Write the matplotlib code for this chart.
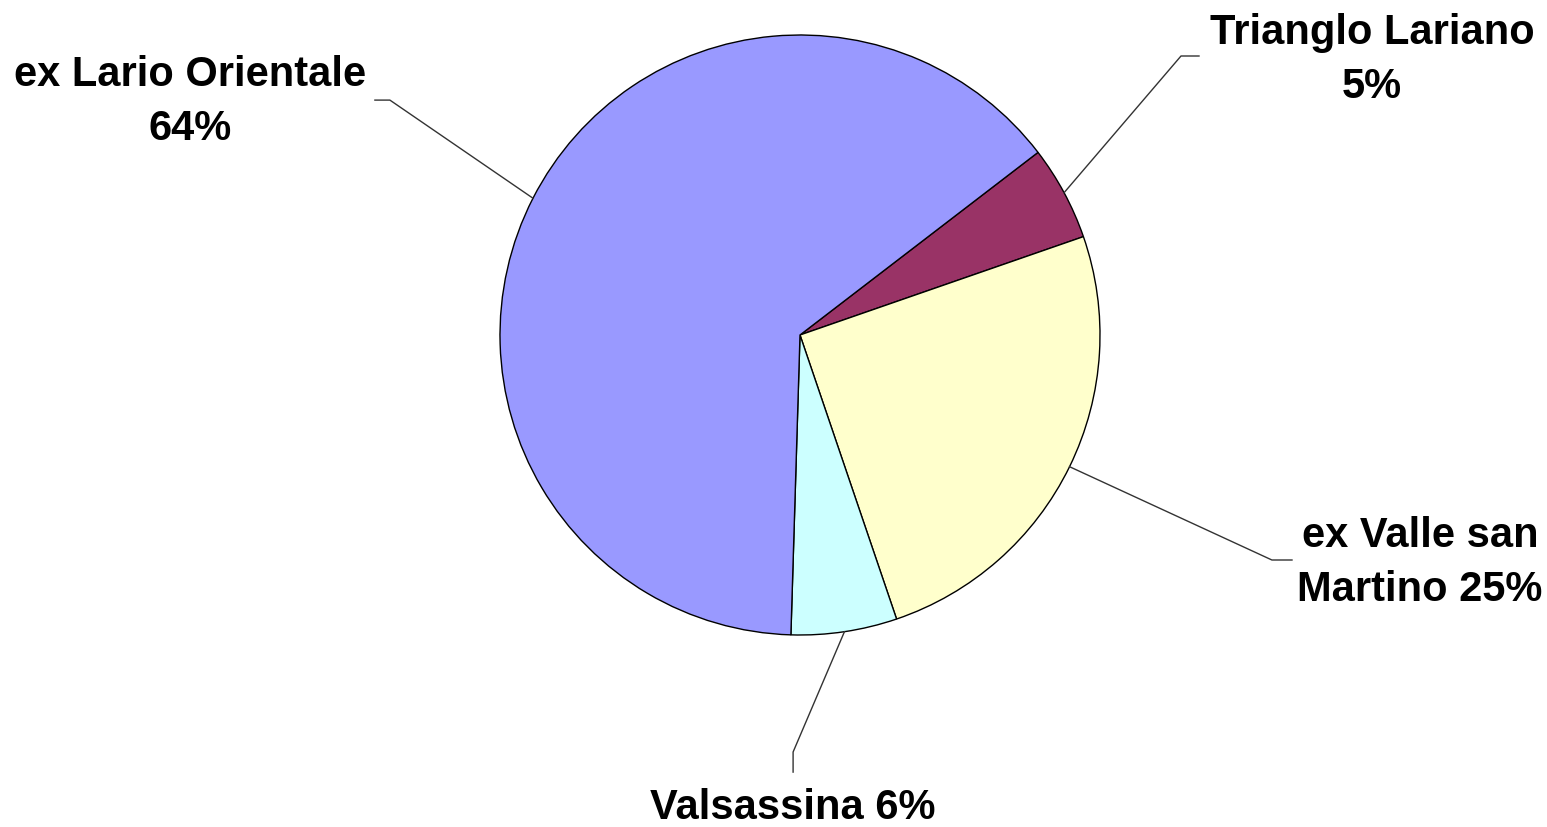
import numpy as np
import matplotlib
matplotlib.use("Agg")
import matplotlib.pyplot as plt

# data
areas = ["Trianglo Lariano", "ex Valle san\nMartino", "Valsassina", "ex Lario Orientale"]
shares = [5.1, 25.1, 5.7, 64.1]
colors = ["#993366", "#FFFFCC", "#CCFFFF", "#9999FF"]

# label layout: (elbow point, text anchor) in pie-radius units
label_sep = ["\n", " ", " ", "\n"]
elbows = [(1.27, 0.93), (1.573, -0.75), (-0.023, -1.39), (-1.367, 0.783)]
line_ends = [(1.33, 0.93), (1.64, -0.75), (-0.023, -1.457), (-1.417, 0.783)]
text_pos = [(1.907, 0.917), (2.067, -0.76), (-0.023, -1.577), (-2.033, 0.777)]

plt.rcParams["font.family"] = ["Liberation Sans", "DejaVu Sans"]

fig = plt.figure(figsize=(15.47, 8.27), dpi=100)
ax = fig.add_axes([0, 0, 1, 1])

wedges, _ = ax.pie(shares, colors=colors, startangle=37.5, counterclock=False,
                   radius=1.0, center=(0, 0),
                   wedgeprops=dict(edgecolor="black", linewidth=1.0))

for i, w in enumerate(wedges):
    mid = np.deg2rad((w.theta1 + w.theta2) / 2)
    x0, y0 = np.cos(mid), np.sin(mid)
    ex, ey = elbows[i]
    lx, ly = line_ends[i]
    ax.plot([x0, ex, lx], [y0, ey, ly], color="#333333", lw=1.0)
    pct = f"{round(shares[i]):d}%"
    txt = areas[i] + label_sep[i] + pct
    ax.text(text_pos[i][0], text_pos[i][1], txt, ha="center", va="center",
            fontsize=30, fontweight="bold", color="black", linespacing=1.45)

ax.set_xlim(-800 / 300, (1547 - 800) / 300)
ax.set_ylim(-492 / 300, (827 - 492) / 300)
ax.set_aspect("equal")
ax.axis("off")

fig.savefig("out.png", dpi=100, facecolor="white")
